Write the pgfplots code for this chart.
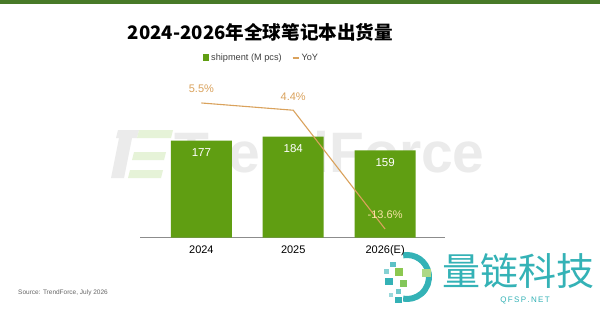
\documentclass[border=0pt]{standalone}
\usepackage{pgfplots}
\pgfplotsset{compat=1.18}
\usepackage{fontspec}
\setmainfont{Liberation Sans}
\newfontfamily\cjk{Noto Sans CJK SC}
\definecolor{barGreen}{RGB}{96,158,18}
\definecolor{topGreen}{RGB}{72,122,40}
\definecolor{yoy}{RGB}{218,162,92}
\definecolor{cream}{RGB}{248,228,165}
\definecolor{tealA}{RGB}{52,178,182}
\definecolor{lgreen}{RGB}{140,200,80}
\begin{document}
\begin{tikzpicture}[x=1bp,y=1bp]
\path[fill=white] (0,0) rectangle (600,311);
\fill[topGreen] (0,307) rectangle (600,311);
% TrendForce watermark
\fill[black!8] (118,181) -- (139,181) -- (137,173) -- (132,173) -- (124,133) -- (111,133) -- (119,173) -- (116,173) -- cycle;
\fill[lgreen!22] (139,181) -- (173,181) -- (171,173) -- (137,173) -- cycle;
\fill[lgreen!22] (134,159) -- (166,159) -- (164,151) -- (132,151) -- cycle;
\fill[lgreen!22] (130,141) -- (163,141) -- (161,133) -- (128,133) -- cycle;
\node[anchor=base west, text=black!8, font=\fontsize{57bp}{57bp}\selectfont\bfseries, inner sep=0] at (174,139) {TrendForce};
% title
\node[font=\cjk\bfseries\fontsize{18.6bp}{22bp}\selectfont] at (260.5,279) {2024-2026年全球笔记本出货量};
% source
\node[anchor=west, text=black!60, font=\fontsize{6.5bp}{8bp}\selectfont, inner sep=0] at (18,18) {Source: TrendForce, July 2026};
% logo
\node[text=tealA, font=\cjk\fontsize{38bp}{40bp}\selectfont, inner sep=0] at (518,40) {量链科技};
\node[text=tealA, font=\fontsize{8bp}{9bp}\selectfont, inner sep=0] at (525,11) {Q\,F\,S\,P\,.\,N\,E\,T};
\draw[tealA, line width=6bp] (407,34)++(100:22) arc (100:-100:22);
\fill[tealA!60] (384,37) rectangle (389,42);
\fill[tealA!80] (390,44) rectangle (396,49);
\fill[lgreen] (395,35) rectangle (403,43);
\fill[tealA] (385,26) rectangle (393,33);
\fill[lgreen!90!tealA] (400,24) rectangle (407,31);
\fill[tealA!70] (396,17) rectangle (401,22);
\fill[tealA] (395,8) rectangle (402,14);
\fill[tealA!50] (389,14) rectangle (393,18);
\fill[lgreen!70] (422,34) rectangle (431,42);
\begin{axis}[
  at={(140bp,73.5bp)}, anchor=south west, scale only axis,
  width=305bp, height=157.5bp,
  xmin=-0.668, xmax=2.652, ymin=0, ymax=287.4,
  axis x line*=bottom, axis y line=none,
  x axis line style={black!45, line width=0.8bp, -},
  xtick={0,1,2}, xticklabels={2024,2025,2026(E)},
  major tick length=0,
  xticklabel style={font=\fontsize{11bp}{13bp}\selectfont, anchor=center, yshift=-12.5bp, text height=8bp, text depth=2bp},
  ytick=\empty,
  legend columns=2,
  legend style={draw=none, fill=none, at={(0.398,1.14)}, anchor=center,
    font=\fontsize{9.2bp}{11bp}\selectfont, text=black!75,
    /tikz/every even column/.append style={column sep=8bp}},
  legend cell align=left,
]
\addplot[ybar, bar width=61bp, fill=barGreen, draw=none,
  nodes near coords, point meta=explicit symbolic,
  every node near coord/.append style={anchor=center, yshift=-12bp, text=white, font=\fontsize{11.5bp}{13bp}\selectfont},
  legend image code/.code={\fill[barGreen] (0bp,-3.5bp) rectangle (6.5bp,3.5bp);}]
  coordinates {(0,177) [177] (1,184) [184] (2,159) [159]};
\addlegendentry{shipment (M pcs)}
\addlegendimage{legend image code/.code={\draw[yoy, line width=1.8bp] (0bp,0bp) -- (6bp,0bp);}}
\addlegendentry{YoY}
\end{axis}
\begin{axis}[
  at={(140bp,73.5bp)}, anchor=south west, scale only axis,
  width=305bp, height=157.5bp,
  xmin=-0.668, xmax=2.652, ymin=-14.88, ymax=8.98,
  hide axis,
]
\addplot[yoy, line width=1.1bp, no marks,
  nodes near coords, point meta=explicit symbolic,
  every node near coord/.append style={anchor=center, yshift=14bp, text=yoy, font=\fontsize{11bp}{13bp}\selectfont}]
  coordinates {(0,5.5) [5.5\%] (1,4.4) [4.4\%] (2,-13.6) [{\color{cream}-13.6\%}]};
\end{axis}
\end{tikzpicture}
\end{document}
